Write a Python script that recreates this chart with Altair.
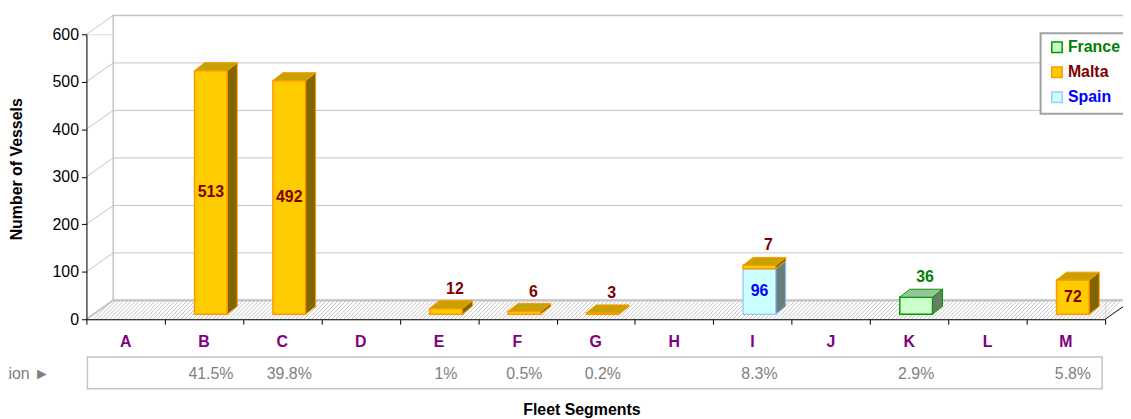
import altair as alt
import numpy as np
import pandas as pd

# ---------------- data ----------------
categories = ["A", "B", "C", "D", "E", "F", "G", "H", "I", "J", "K", "L", "M"]
malta_values = [0, 513, 492, 0, 12, 6, 3, 0, 7, 0, 0, 0, 72]
spain_values = [0, 0, 0, 0, 0, 0, 0, 0, 96, 0, 0, 0, 0]
france_values = [0, 0, 0, 0, 0, 0, 0, 0, 0, 0, 36, 0, 0]
contribution = ["", "41.5%", "39.8%", "", "1%", "0.5%", "0.2%", "", "8.3%", "", "2.9%", "", "5.8%"]
y_ticks = [0, 100, 200, 300, 400, 500, 600]
legend_countries = ["France", "Malta", "Spain"]
stack_order = ["Spain", "France", "Malta"]

# ---------------- styles ----------------
FONT = "Liberation Sans"
STYLE = {
    "Malta": dict(front="#FFCC00", edge="#FF9900", top="#C8A000", side="#806600", label="#800000"),
    "Spain": dict(front="#CCFFFF", edge="#99CCFF", top="#A3CCCC", side="#668080", label="#0000FF"),
    "France": dict(front="#CCFFCC", edge="#009900", top="#99C499", side="#668066", label="#008000"),
}
W, H = 1026, 287
XMAX, YMAX = 13, 600
UX = W / XMAX          # px per x unit
UY = H / YMAX          # px per y unit


def dxu(px):
    return px / UX


def dyu(px):
    return px / UY


WALL_DX, WALL_DY = dxu(27), dyu(19)
BAR_DX, BAR_DY = dxu(10), dyu(8)
FRONT_DX, FRONT_DY = dxu(7), dyu(5)
HALF_W = dxu(16.5)

series = {"Malta": malta_values, "Spain": spain_values, "France": france_values}

front_rows, side_rows, top_rows, label_rows = [], [], [], []
for i, cat in enumerate(categories):
    segs = []
    base = 0
    for c in stack_order:
        v = series[c][i]
        if v > 0:
            segs.append((c, base, base + v, v))
            base += v
    cx = i + 0.5 + FRONT_DX
    xl, xr = cx - HALF_W, cx + HALF_W
    for k, (c, b, t, v) in enumerate(segs):
        st = STYLE[c]
        key = f"{cat}-{c}"
        yb, yt = b + FRONT_DY, t + FRONT_DY
        front_rows.append(dict(key=key, xl=xl, xr=xr, yb=yb, yt=yt, fill=st["front"], edge=st["edge"]))
        side_rows.append(dict(key=key, x=xr, lo=yb, hi=yt, fill=st["side"], edge=st["edge"]))
        side_rows.append(dict(key=key, x=xr + BAR_DX, lo=yb + BAR_DY, hi=yt + BAR_DY, fill=st["side"], edge=st["edge"]))
        is_top = k == len(segs) - 1
        if is_top:
            top_rows.append(dict(key=key, yy=yt, xa=xl, xb=xr, fill=st["top"], edge=st["edge"]))
            top_rows.append(dict(key=key, yy=yt + BAR_DY, xa=xl + BAR_DX, xb=xr + BAR_DX, fill=st["top"], edge=st["edge"]))
        if v * UY >= 25:
            label_rows.append(dict(lx=cx, ly=(yb + yt) / 2, label=str(v), col=st["label"]))
        else:
            label_rows.append(dict(lx=cx + dxu(9), ly=yt + BAR_DY + dyu(12), label=str(v), col=st["label"]))

front_df = pd.DataFrame(front_rows)
side_df = pd.DataFrame(side_rows)
top_df = pd.DataFrame(top_rows)
label_df = pd.DataFrame(label_rows)

cat_df = pd.DataFrame({"cat": categories, "cx": [i + 0.5 for i in range(len(categories))],
                       "px": [i + 0.5 + FRONT_DX for i in range(len(categories))],
                       "pct": contribution})

grid_df = pd.DataFrame({"v": y_ticks})
grid_df["vb"] = grid_df["v"] + WALL_DY
grid_df["x0"] = 0.0
grid_df["x1"] = WALL_DX
grid_df["xa"] = WALL_DX
grid_df["xb"] = XMAX + WALL_DX

hatch_start = np.arange(7, W + 1, 4)
hatch_df = pd.DataFrame({"x1": hatch_start / UX, "x2": (hatch_start + 19) / UX})
hatch_df["y1"] = 0.0
hatch_df["y2"] = WALL_DY

wall_df = pd.DataFrame({"x1": [WALL_DX], "x2": [XMAX + WALL_DX], "y1": [WALL_DY], "y2": [YMAX + WALL_DY]})
redge_df = pd.DataFrame({"x1": [XMAX], "x2": [XMAX + WALL_DX], "y1": [0.0], "y2": [WALL_DY]})

leg_df = pd.DataFrame({"name": legend_countries})
leg_df["ly"] = [dyu(320 - (46 + 25.2 * k)) for k in range(len(legend_countries))]
leg_df["fill"] = [STYLE[c]["front"] for c in legend_countries]
leg_df["edge"] = [STYLE[c]["edge"] for c in legend_countries]
leg_df["col"] = [STYLE[c]["label"] for c in legend_countries]

one = pd.DataFrame({"a": [0]})

xs = alt.Scale(domain=[0, XMAX], nice=False, zero=False)
ys = alt.Scale(domain=[0, YMAX], nice=False, zero=False)
AX_X = alt.Axis(values=list(range(XMAX + 1)), labels=False, tickSize=5, domainColor="black",
                tickColor="black", grid=False, title=None, zindex=1)
AX_Y = alt.Axis(values=y_ticks, tickSize=5, labelFontSize=16, labelFont=FONT, labelColor="black",
                domainColor="black", tickColor="black", grid=False, title=None, labelPadding=3, zindex=1)


def X(f):
    return alt.X(f, type="quantitative", scale=xs, axis=AX_X)


def Y(f):
    return alt.Y(f, type="quantitative", scale=ys, axis=AX_Y)


wall = alt.Chart(wall_df).mark_rect(fill="white", stroke="#c4c4c4", strokeWidth=1.5).encode(
    x=X("x1"), x2="x2:Q", y=Y("y1"), y2="y2:Q")

hatch = alt.Chart(hatch_df).mark_rule(color="#c2c2c2", strokeWidth=1).encode(
    x=X("x1"), x2="x2:Q", y=Y("y1"), y2="y2:Q")

back_grid = alt.Chart(grid_df).mark_rule(color="#c4c4c4", strokeWidth=1).encode(
    x=X("xa"), x2="xb:Q", y=Y("vb"))

floor_back = alt.Chart(grid_df[grid_df["v"] == 0]).mark_rule(color="#c4c4c4", strokeWidth=2.5).encode(
    x=X("xa"), x2="xb:Q", y=Y("vb"))

side_grid = alt.Chart(grid_df).mark_rule(color="#c4c4c4", strokeWidth=1).encode(
    x=X("x0"), x2="x1:Q", y=Y("v"), y2="vb:Q")

floor_left = alt.Chart(grid_df[grid_df["v"] == 0]).mark_rule(color="#c4c4c4", strokeWidth=2).encode(
    x=X("x0"), x2="x1:Q", y=Y("v"), y2="vb:Q")

right_edge = alt.Chart(redge_df).mark_rule(color="black", strokeWidth=1).encode(
    x=X("x1"), x2="x2:Q", y=Y("y1"), y2="y2:Q")

fronts = alt.Chart(front_df).mark_rect(strokeWidth=1.5).encode(
    x=X("xl"), x2="xr:Q", y=Y("yb"), y2="yt:Q",
    fill=alt.Fill("fill:N", scale=None), stroke=alt.Stroke("edge:N", scale=None))

sides = alt.Chart(side_df).mark_area(strokeWidth=1).encode(
    x=X("x"), y=Y("lo"), y2="hi:Q", detail="key:N",
    fill=alt.Fill("fill:N", scale=None), stroke=alt.Stroke("edge:N", scale=None))

tops = alt.Chart(top_df).mark_area(orient="horizontal", strokeWidth=1).encode(
    y=Y("yy"), x=X("xa"), x2="xb:Q", detail="key:N",
    fill=alt.Fill("fill:N", scale=None), stroke=alt.Stroke("edge:N", scale=None))

labels = alt.Chart(label_df).mark_text(font=FONT, fontSize=16, fontWeight="bold",
                                       align="center", baseline="middle").encode(
    x=X("lx"), y=Y("ly"), text="label:N", color=alt.Color("col:N", scale=None))

cat_labels = alt.Chart(cat_df).mark_text(font=FONT, fontSize=16, fontWeight="bold", color="#800080",
                                         align="center", baseline="middle").encode(
    x=X("cx"), y=alt.value(310), text="cat:N")

contrib_box = alt.Chart(one).mark_rect(fill="white", stroke="#c4c4c4", strokeWidth=1.5).encode(
    x=alt.value(1), x2=alt.value(1023), y=alt.value(325), y2=alt.value(357))

pct_labels = alt.Chart(cat_df).mark_text(font=FONT, fontSize=16, color="#808080",
                                         align="center", baseline="middle").encode(
    x=X("px"), y=alt.value(342), text="pct:N")

contrib_title = alt.Chart(one).mark_text(font=FONT, fontSize=16, color="#808080",
                                         align="right", baseline="middle", text="Contribution ►").encode(
    x=alt.value(-37), y=alt.value(342))

x_title = alt.Chart(one).mark_text(font=FONT, fontSize=16, fontWeight="bold", color="black",
                                   align="center", baseline="middle", text="Fleet Segments").encode(
    x=alt.value(499), y=alt.value(378))

y_title = alt.Chart(one).mark_text(font=FONT, fontSize=16, fontWeight="bold", color="black", angle=270,
                                   align="center", baseline="middle", text="Number of Vessels").encode(
    x=alt.value(-69.5), y=alt.value(136))

leg_box = alt.Chart(one).mark_rect(fill="white", stroke="#a0a0a0", strokeWidth=2).encode(
    x=alt.value(961), x2=alt.value(1070), y=alt.value(-1), y2=alt.value(80))

leg_sym = alt.Chart(leg_df).mark_point(shape="square", size=110, filled=True, strokeWidth=1.5, opacity=1).encode(
    x=alt.value(977.5), y=Y("ly"),
    fill=alt.Fill("fill:N", scale=None), stroke=alt.Stroke("edge:N", scale=None))

leg_txt = alt.Chart(leg_df).mark_text(font=FONT, fontSize=16, fontWeight="bold",
                                      align="left", baseline="middle").encode(
    x=alt.value(988.5), y=Y("ly"), text="name:N", color=alt.Color("col:N", scale=None))

chart = alt.layer(
    wall, hatch, back_grid, floor_back, side_grid, floor_left, right_edge,
    fronts, sides, tops, labels,
    cat_labels, contrib_box, pct_labels, contrib_title, x_title, y_title,
    leg_box, leg_sym, leg_txt,
).properties(
    width=W, height=H,
    autosize=alt.AutoSizeParams(type="none"),
    padding={"left": 79, "top": 25, "right": 18, "bottom": 99},
).configure_view(stroke=None).configure(background="white")

chart.save("out.html", embed_options={"renderer": "svg", "actions": False})
